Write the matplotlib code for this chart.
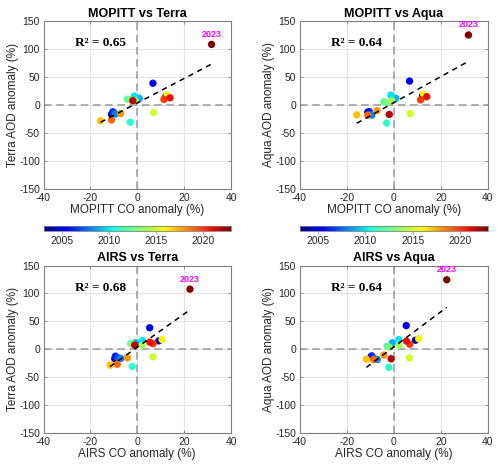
import numpy as np
import matplotlib
matplotlib.use("Agg")
import matplotlib.pyplot as plt
from matplotlib.colors import Normalize

plt.rcParams['font.family'] = ['Liberation Sans', 'DejaVu Sans']
plt.rcParams['axes.unicode_minus'] = False

years = np.arange(2003, 2024)

# CO anomalies (%)
mopitt_co = [-11.0, 12.2, 6.7, -10.4, -9.8, -9.3, 0.9, -1.2, -3.0, -4.2, -3.0,
             -0.8, 7.0, 12.7, -15.7, -7.1, -11.0, 11.4, 14.0, -1.9, 31.7]
airs_co = [-9.6, 9.2, 5.3, -9.3, -8.3, -7.0, -0.6, 2.2, -2.1, -2.8, -2.0,
           2.2, 6.7, 10.6, -11.6, -4.2, -8.5, 6.8, 5.4, -1.1, 22.5]

# AOD anomalies (%)
terra_aod = [-17.0, 15.0, 38.5, -12.5, -15.0, -16.5, 11.5, 15.5, -31.0, 10.0, 9.0,
             7.0, -13.7, 17.3, -28.5, -15.5, -27.0, 9.8, 12.5, 7.5, 107.7]
aqua_aod = [-13.0, 16.0, 42.3, -12.0, -17.0, -18.4, 11.4, 17.3, -32.5, 5.5, 4.0,
            7.0, -15.5, 18.8, -18.0, -10.5, -18.5, 8.8, 14.5, -17.2, 124.5]

r2_values = [0.65, 0.64, 0.68, 0.64]
titles = ['MOPITT vs Terra', 'MOPITT vs Aqua', 'AIRS vs Terra', 'AIRS vs Aqua']
xlabels = ['MOPITT CO anomaly (%)', 'MOPITT CO anomaly (%)',
           'AIRS CO anomaly (%)', 'AIRS CO anomaly (%)']
ylabels = ['Terra AOD anomaly (%)', 'Aqua AOD anomaly (%)',
           'Terra AOD anomaly (%)', 'Aqua AOD anomaly (%)']
xs = [mopitt_co, mopitt_co, airs_co, airs_co]
ys = [terra_aod, aqua_aod, terra_aod, aqua_aod]
cbar_ticks = [2005, 2010, 2015, 2020]

fig = plt.figure(figsize=(5.0, 4.7), dpi=100)
positions = [[0.087, 0.598, 0.375, 0.358], [0.599, 0.598, 0.377, 0.358],
             [0.087, 0.079, 0.375, 0.356], [0.599, 0.079, 0.377, 0.356]]
cb_positions = [[0.087, 0.509, 0.375, 0.0105], [0.599, 0.509, 0.377, 0.0105]]

norm = Normalize(vmin=2003, vmax=2023)
cmap = plt.get_cmap('jet')
txtcol = '#262626'
boxcol = '#7f7f7f'

for i in range(4):
    ax = fig.add_axes(positions[i])
    x = np.array(xs[i])
    y = np.array(ys[i])
    ax.grid(True, color='#e3e3e3', linewidth=0.8, zorder=0)
    ax.axhline(0, color='#999999', linestyle=(0, (5, 3)), linewidth=1.1, zorder=1)
    ax.axvline(0, color='#999999', linestyle=(0, (5, 3)), linewidth=1.1, zorder=1)
    ax.scatter(x, y, c=years, cmap=cmap, norm=norm, s=28, linewidths=0, zorder=3)
    k, b = np.polyfit(x, y, 1)
    xl = np.array([x.min(), x.max()])
    ax.plot(xl, k * xl + b, color='black', linestyle=(0, (3.5, 3)), linewidth=1.1, zorder=4)
    ax.annotate('2023', (x[-1], y[-1]), xytext=(0, 4), textcoords='offset points',
                ha='center', va='bottom', color='magenta', fontsize=6.5, fontweight='bold')
    ax.text(-26.5, 110, 'R² = %.2f' % r2_values[i], family='Liberation Serif',
            fontweight='bold', fontsize=9.5, va='center', ha='left', color='black')
    ax.set_xlim(-40, 40)
    ax.set_ylim(-150, 150)
    ax.set_xticks([-40, -20, 0, 20, 40])
    ax.set_yticks([-150, -100, -50, 0, 50, 100, 150])
    ax.set_axisbelow(True)
    for sp in ax.spines.values():
        sp.set_color(boxcol)
        sp.set_linewidth(0.8)
    ax.tick_params(labelsize=7.5, colors=txtcol, length=2.5, width=0.6, direction='in',
                   top=True, right=True, color=boxcol)
    ax.tick_params(axis='x', pad=3)
    ax.tick_params(axis='y', pad=2.5)
    ax.set_title(titles[i], fontsize=9, fontweight='bold', color='black', pad=3)
    ax.set_xlabel(xlabels[i], fontsize=8.5, color=txtcol, labelpad=1)
    ax.set_ylabel(ylabels[i], fontsize=8.5, color=txtcol, labelpad=0)

for pos in cb_positions:
    cax = fig.add_axes(pos)
    cb = fig.colorbar(plt.cm.ScalarMappable(norm=norm, cmap=cmap), cax=cax,
                      orientation='horizontal', ticks=cbar_ticks)
    cb.outline.set_edgecolor(boxcol)
    cb.outline.set_linewidth(0.6)
    cax.tick_params(labelsize=7.5, colors=txtcol, length=2, width=0.5, color=boxcol, pad=2)

fig.savefig('out.png', dpi=100)
